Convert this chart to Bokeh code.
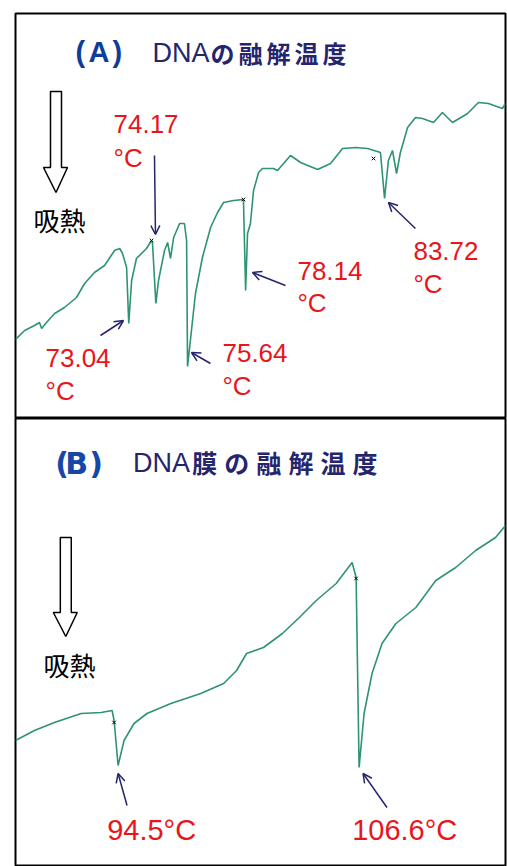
from bokeh.plotting import figure
from bokeh.layouts import column
from bokeh.models import Range1d, Arrow, OpenHead
from bokeh.core.properties import value
from bokeh.embed import file_html
from bokeh.resources import INLINE

# ---------------- data ----------------
# Panel A: DSC trace of DNA (temperature in deg C, heat flow in arbitrary units)
temp_a = [68.32, 68.70, 69.11, 69.32, 69.41, 69.61, 69.95, 70.36, 70.86, 71.20,
          71.61, 72.03, 72.45, 72.66, 72.78, 72.95, 73.04, 73.16, 73.36, 73.78,
          73.99, 74.03, 74.17, 74.28, 74.53, 74.66, 74.78, 74.91, 75.16, 75.36,
          75.45, 75.49, 75.82, 76.11, 76.45, 76.74, 76.99, 77.41, 77.82, 77.91,
          77.99, 78.11, 78.24, 78.45, 78.61, 79.07, 79.24, 79.78, 80.20, 80.91,
          81.45, 81.95, 82.49, 82.99, 83.53, 83.70, 83.86, 84.03, 84.20, 84.36,
          84.66, 84.99, 85.28, 85.74, 86.11, 86.53, 87.16, 87.61, 88.03, 88.61,
          88.74]
flow_a = [77, 86, 91, 94, 88, 94, 103, 109, 119, 133,
          144, 151, 166, 168, 163, 149, 93, 136, 158, 168,
          176, 173, 113, 136, 166, 174, 158, 179, 193, 193,
          176, 50, 123, 159, 189, 204, 214, 216, 217, 126,
          183, 193, 226, 244, 248, 248, 246, 261, 254, 247,
          253, 268, 269, 268, 264, 218, 256, 266, 243, 264,
          289, 299, 298, 294, 304, 294, 303, 314, 313, 308,
          313]
onset_temp_a = [73.99, 77.82, 83.24]
onset_flow_a = [176, 217, 258]
peak_labels_a = ["73.04", "74.17", "75.64", "78.14", "83.72"]

# Panel B: DSC trace of DNA film
temp_b = [89.35, 90.30, 91.30, 92.65, 93.65, 94.20, 94.30, 94.50, 94.80, 95.30,
          95.95, 97.15, 98.65, 99.80, 100.45, 100.95, 101.80, 102.75, 103.60, 104.45,
          105.45, 106.25, 106.45, 106.60, 106.85, 107.25, 107.75, 108.45, 109.45, 110.45,
          111.45, 112.45, 113.45, 113.95]
flow_b = [126, 136, 144, 153, 154, 156, 146, 101, 126, 143,
          153, 163, 173, 183, 196, 213, 219, 233, 249, 266,
          283, 304, 289, 99, 153, 193, 223, 243, 259, 286,
          299, 316, 329, 341]
onset_temp_b = [94.30, 106.45]
onset_flow_b = [144, 288]
peak_labels_b = ["94.5°C", "106.6°C"]

# ---------------- styling ----------------
GREEN = "#2e9470"
RED = "#e8151b"
NAVY = "#25256e"
BLUE_A = "#0e3d98"
BLUE_B = "#1447a8"
LATIN = value("Liberation Sans")
CJK = value("Noto Sans CJK JP")


# frame-pixel helpers for decorations only
def ax(px):
    return 68.32 + (px - 15) / 24.0


def ay(py):
    return 416 - py


def bx(px):
    return 89.35 + (px - 15) / 20.0


def by(py):
    return 866 - py


def make_fig(width, height, xr, yr, top, right):
    p = figure(width=width, height=height, x_range=Range1d(*xr), y_range=Range1d(*yr),
               x_axis_location=None, y_axis_location=None, toolbar_location=None,
               output_backend="svg", min_border_left=15, min_border_right=right,
               min_border_top=top, min_border_bottom=0,
               outline_line_color="black", outline_line_width=2,
               background_fill_color="white", border_fill_color="white")
    p.xgrid.grid_line_color = None
    p.ygrid.grid_line_color = None
    return p


def hollow_arrow(p, fx, fy, x0, x1, top, base, hx0, hx1, tip):
    xc = (x0 + x1) / 2.0
    xs = [fx(x0), fx(x1), fx(x1), fx(hx1), fx(xc), fx(hx0), fx(x0)]
    ys = [fy(top), fy(top), fy(base), fy(base), fy(tip), fy(base), fy(base)]
    p.patch(xs, ys, fill_color="white", line_color="black", line_width=1.5)


def txt(p, x, y, s, font, size, color, weight="normal", align="left"):
    p.text(x=[x], y=[y], text=[s], text_font=font, text_font_size=size,
           text_color=color, text_font_style=weight, text_baseline="middle",
           text_align=align)


def pointer(p, x0, y0, x1, y1):
    p.add_layout(Arrow(end=OpenHead(size=9, line_color=NAVY, line_width=1.5),
                       x_start=x0, y_start=y0, x_end=x1, y_end=y1,
                       line_color=NAVY, line_width=1.5))


# ---------------- Panel A ----------------
pa = make_fig(507, 418, (68.32, 88.74), (-2, 403), 13, 2)
pa.line(temp_a, flow_a, line_color=GREEN, line_width=1.6)
pa.scatter(onset_temp_a, onset_flow_a, marker="x", size=5, line_color="black", line_width=1)

# title
for ch, px in [("(", 75), ("A", 88), (")", 112)]:
    txt(pa, ax(px), ay(51), ch, value("Liberation Sans Narrow, Liberation Sans"), "29px", BLUE_A, "bold")
txt(pa, ax(152), ay(52), "DNA", LATIN, "27px", NAVY)
for i, ch in enumerate("の融解温度"):
    txt(pa, ax(222 + 28 * i), ay(52), ch, CJK, "24px", NAVY, "bold", "center")

hollow_arrow(pa, ax, ay, 50, 61, 91, 167, 43, 67, 192)
txt(pa, ax(33), ay(219), "吸熱", CJK, "26px", "black")

label_pos_a = [(45, 357, 390), (113, 123, 157), (222, 352, 385), (297, 270, 302), (413, 250, 283)]
for lab, (lx, ly1, ly2) in zip(peak_labels_a, label_pos_a):
    txt(pa, ax(lx), ay(ly1), lab, LATIN, "26px", RED)
    txt(pa, ax(lx), ay(ly2), "°C", LATIN, "26px", RED)

for (x0, y0, x1, y1) in [(100, 335, 123, 320), (154, 155, 155, 234), (210, 363, 191, 352),
                         (285, 285, 252, 272), (415, 228, 388, 202)]:
    pointer(pa, ax(x0), ay(y0), ax(x1), ay(y1))

# ---------------- Panel B ----------------
pb = make_fig(507, 448, (89.35, 113.95), (0, 448), 0, 0)
pb.line(temp_b, flow_b, line_color=GREEN, line_width=1.6)
pb.scatter(onset_temp_b, onset_flow_b, marker="x", size=5, line_color="black", line_width=1)

for ch, px in [("(", 55), ("B", 65), (")", 89)]:
    txt(pb, bx(px), by(463), ch, value("DejaVu Sans"), "30px", BLUE_B, "bold")
txt(pb, bx(133), by(462), "DNA", LATIN, "27px", NAVY)
for i, ch in enumerate("膜の融解温度"):
    txt(pb, bx(205 + 32.2 * i), by(461), ch, CJK, "25px", NAVY, "bold", "center")

hollow_arrow(pb, bx, by, 60, 71, 537, 612, 53, 77, 636)
txt(pb, bx(43), by(664), "吸熱", CJK, "26px", "black")

for lab, lx in zip(peak_labels_b, [107, 353]):
    txt(pb, bx(lx), by(829), lab, LATIN, "29px", RED)

for (x0, y0, x1, y1) in [(127, 805, 118, 773), (388, 807, 364, 773)]:
    pointer(pb, bx(x0), by(y0), bx(x1), by(y1))

layout = column(pa, pb, spacing=0)
open("out.html", "w").write(file_html(layout, INLINE))
